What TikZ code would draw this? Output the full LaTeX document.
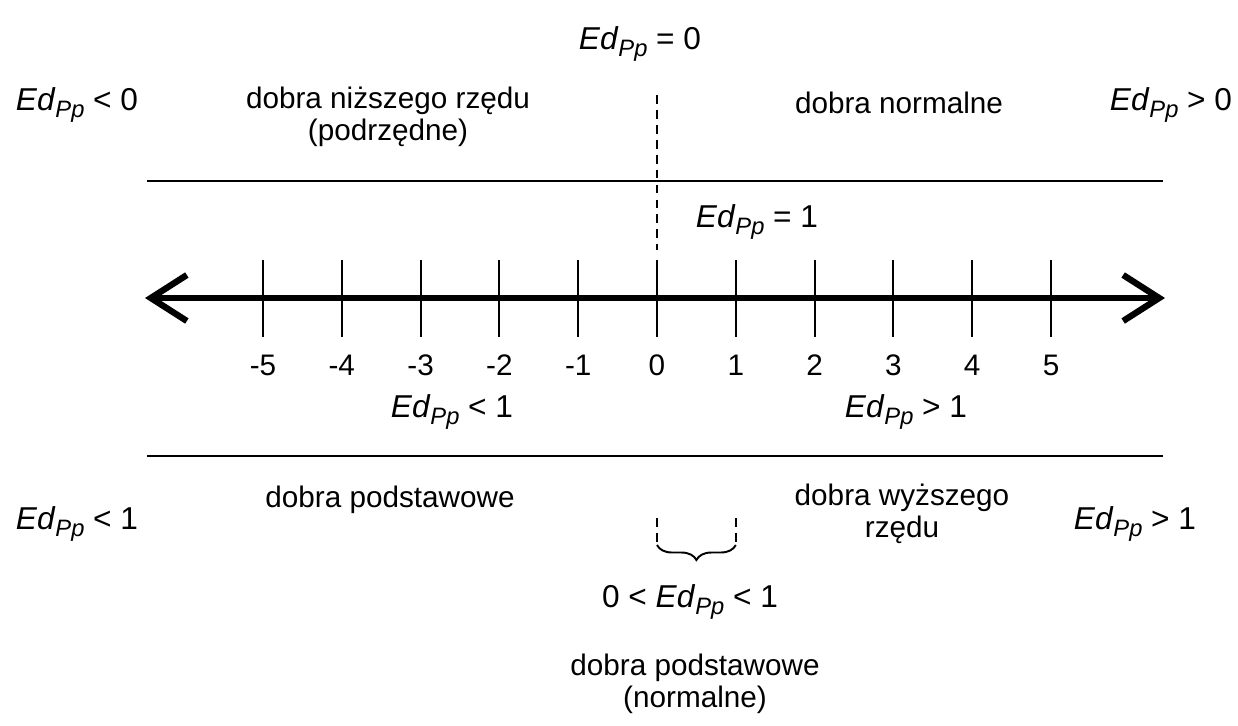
\documentclass[tikz,border=0pt]{standalone}
\usepackage{fontspec}
\setmainfont{Liberation Sans}
\usetikzlibrary{calc,arrows.meta,decorations.pathreplacing}
\newcommand{\EdPp}{\textit{Ed}\raisebox{-0.4ex}{\fontsize{13.5}{13.5}\selectfont\textit{Pp}}}
\tikzset{
  lbl/.style={inner sep=0pt,align=center,font=\fontsize{16.9}{18.5}\selectfont},
  edl/.style={inner sep=0pt,align=center,font=\fontsize{18}{20}\selectfont},
  guide/.style={line width=1.2pt,dash pattern=on 5pt off 3.5pt},
}
\begin{document}
\begin{tikzpicture}[x=0.02cm,y=-0.02cm]
\useasboundingbox (0,0) rectangle (1238,725);
% separating lines
\coordinate (ul) at (147,181); \coordinate (ur) at (1163,181);
\coordinate (ll) at (147,456); \coordinate (lr) at (1163,456);
\draw[line width=1.1pt] (ul) -- (ur);
\draw[line width=1.1pt] (ll) -- (lr);
% axis with ticks
\coordinate (axL) at (145,298); \coordinate (axR) at (1165,298);
\draw[line width=3.6pt,{Straight Barb[length=0.72cm,width=0.92cm]}-{Straight Barb[length=0.72cm,width=0.92cm]}] (axL) -- (axR);
\foreach \k in {-5,...,5}{
  \coordinate (t\k) at ({657+78.8*\k},298);
  \draw[line width=1.1pt] ($(t\k)+(0,-38)$) -- ($(t\k)+(0,39)$);
  \node[lbl] (n\k) at ($(t\k)+(0,67)$) {\k};
}
% dashed guides
\draw[guide] ($(t0)+(0,-203)$) -- ($(t0)+(0,-48)$);
\coordinate (b0) at ($(t0)+(0,247)$); \coordinate (b1) at ($(t1)+(0,247)$);
\draw[guide] ($(t0)+(0,220)$) -- (b0);
\draw[guide] ($(t1)+(0,220)$) -- (b1);
\draw[line width=1.1pt,decorate,decoration={brace,mirror,amplitude=0.3cm}] (b0) -- (b1);
% labels
\node[edl] (e0) at (640,44) {\EdPp{} = 0};
\node[edl] (ltz) at (77,105) {\EdPp{} < 0};
\node[lbl] (inf) at (388,117) {dobra niższego rzędu\\(podrzędne)};
\node[lbl] (nor) at (899,103) {dobra normalne};
\node[edl] (gtz) at (1171,105) {\EdPp{} > 0};
\node[edl] (e1) at (757,222) {\EdPp{} = 1};
\node[edl] (lt1) at (452,412) {\EdPp{} < 1};
\node[edl] (gt1) at (906,412) {\EdPp{} > 1};
\node[edl] (ltl) at (77,524) {\EdPp{} < 1};
\node[lbl] (pod) at (390,500) {dobra podstawowe};
\node[lbl] (wyz) at (902,514) {dobra wyższego\\rzędu};
\node[edl] (gtr) at (1135,524) {\EdPp{} > 1};
\node[edl] (mid) at (690,602) {0 < \EdPp{} < 1};
\node[lbl] (podn) at (695,684) {dobra podstawowe\\(normalne)};
\end{tikzpicture}
\end{document}
